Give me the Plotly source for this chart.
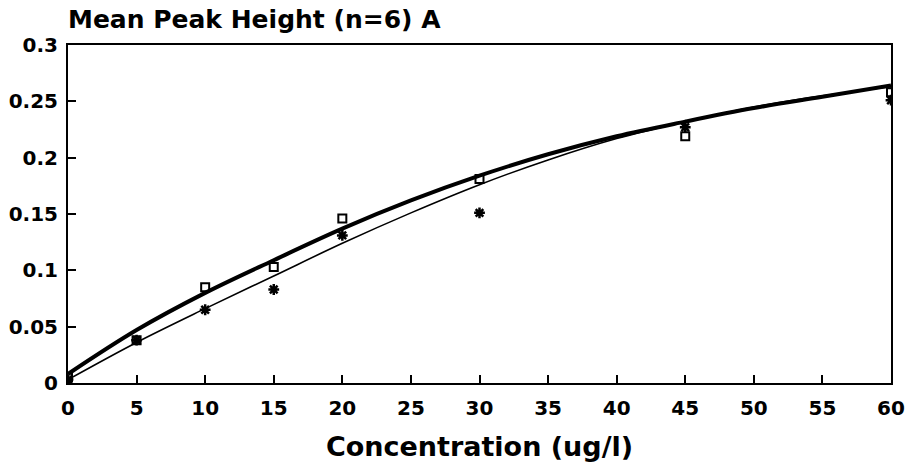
import plotly.graph_objects as go

conc = [0, 5, 10, 15, 20, 30, 45, 60]
squares = [0.005, 0.038, 0.085, 0.103, 0.146, 0.181, 0.219, 0.258]
stars = [0.003, 0.038, 0.065, 0.083, 0.131, 0.151, 0.227, 0.251]

curve_x = [0, 5, 10, 15, 20, 25, 30, 35, 40, 45, 50, 55, 60]
thick_fit = [0.008, 0.047, 0.080, 0.109, 0.137, 0.162, 0.184, 0.203, 0.219, 0.232, 0.244, 0.254, 0.264]
thin_fit = [0.003, 0.036, 0.066, 0.095, 0.124, 0.151, 0.176, 0.198, 0.217, 0.232, 0.245, 0.255, 0.263]

x_ticks = list(range(0, 61, 5))
y_ticks = [0, 0.05, 0.1, 0.15, 0.2, 0.25, 0.3]
y_tick_text = ["0", "0.05", "0.1", "0.15", "0.2", "0.25", "0.3"]

FONT = "DejaVu Sans"

fig = go.Figure()
fig.add_trace(go.Scatter(x=curve_x, y=thin_fit, mode="lines", line=dict(color="black", width=1.6, shape="spline"), hoverinfo="skip"))
fig.add_trace(go.Scatter(x=curve_x, y=thick_fit, mode="lines", line=dict(color="black", width=4, shape="spline"), hoverinfo="skip"))
fig.add_trace(go.Scatter(x=conc, y=squares, mode="markers",
                         marker=dict(symbol="square-open", size=8, color="black", line=dict(width=2, color="black"))))
fig.add_trace(go.Scatter(x=conc, y=stars, mode="markers",
                         marker=dict(symbol="asterisk-open", size=9, color="black", line=dict(width=2.5, color="black"))))

fig.update_layout(
    width=910, height=475,
    margin=dict(l=68, r=19, t=45, b=92),
    paper_bgcolor="white", plot_bgcolor="white",
    showlegend=False,
    font=dict(family=FONT, color="black", size=20, weight="bold"),
    title=dict(text="Mean Peak Height (n=6) A", x=0, xanchor="left", xref="paper",
               y=0.978, yanchor="top", yref="container",
               font=dict(family=FONT, size=25, weight="bold", color="black")),
)
fig.update_xaxes(range=[0, 60], tickvals=x_ticks, ticks="inside", ticklen=8, tickwidth=1.5, tickcolor="black",
                 showline=True, linecolor="black", linewidth=2, mirror=True, showgrid=False, zeroline=False,
                 automargin=False,
                 tickfont=dict(family=FONT, size=20, weight="bold"), ticklabelstandoff=6,
                 title=dict(text="Concentration (ug/l)", font=dict(family=FONT, size=27, weight="bold"), standoff=18))
fig.update_yaxes(range=[0, 0.3], tickvals=y_ticks, ticktext=y_tick_text, ticks="inside", ticklen=8, tickwidth=1.5,
                 tickcolor="black", showline=True, linecolor="black", linewidth=2, mirror=True, showgrid=False,
                 zeroline=False, automargin=False, tickfont=dict(family=FONT, size=20, weight="bold"), ticklabelstandoff=4)

fig.write_html("out.html")
